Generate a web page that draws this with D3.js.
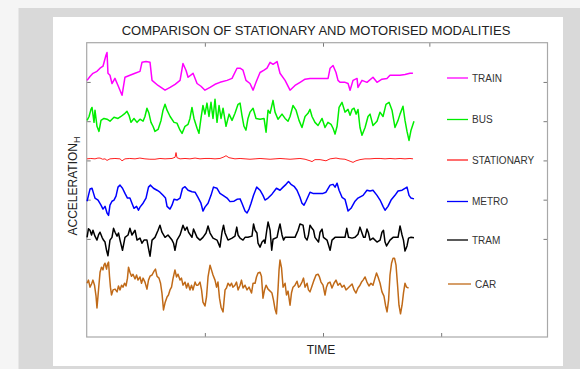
<!DOCTYPE html>
<html><head><meta charset="utf-8">
<script src="https://cdn.jsdelivr.net/npm/d3@7/dist/d3.min.js"></script>
<style>
html,body{margin:0;padding:0;background:#f5f5f5;}
svg{display:block;font-family:"Liberation Sans",Arial,Helvetica,sans-serif;}
</style>
</head><body><svg id="chart" width="580" height="369"></svg>
<script>
// ---------- DATA ----------
const seriesNames  = ["TRAIN", "BUS", "STATIONARY", "METRO", "TRAM", "CAR"];
const seriesColors = ["#ff00ff", "#00ee00", "#ff2020", "#0000ff", "#000000", "#c06a18"];
const xTickValues = [100, 200, 300];
const xTopTickValues = [100, 200, 290];
const yTickValues = [25, 35, 45, 55, 65];
const chartTitle = "COMPARISON OF STATIONARY AND MOTORISED MODALITIES";
const xLabel = "TIME";
const yLabel = "ACCELERATION";
const yLabelSub = "H";

// [time, offset acceleration]
const train = [[0.3,65.4],[2.8,66.4],[5.3,67.2],[8.7,67.7],[11.3,68.5],[13.8,69.0],[16.3,71.8],[17.2,72.5],[18.0,67.2],[19.7,66.7],[21.4,64.6],[23.9,65.9],[26.5,64.1],[29.9,61.6],[32.4,66.2],[36.6,66.7],[40.9,67.2],[45.1,67.7],[46.8,70.0],[50.2,70.2],[53.6,70.0],[55.3,65.4],[60.4,64.1],[66.3,62.9],[70.6,63.6],[74.8,64.4],[79.0,65.4],[81.5,69.7],[84.1,67.9],[85.8,66.2],[90.0,67.2],[93.4,64.6],[96.7,63.9],[100.1,62.9],[104.4,63.6],[108.6,64.4],[112.8,64.9],[118.8,65.4],[123.0,65.9],[127.2,68.5],[129.8,68.5],[132.3,68.0],[134.8,65.4],[138.2,64.6],[140.8,62.9],[143.3,64.9],[146.7,67.4],[150.1,68.0],[152.6,68.5],[155.2,70.0],[157.7,69.5],[161.1,70.2],[163.6,67.2],[167.9,65.4],[172.1,62.9],[176.3,64.1],[180.6,64.9],[184.8,65.7],[189.0,65.9],[197.5,65.9],[204.3,65.9],[206.0,68.5],[208.5,69.2],[211.0,67.4],[212.7,65.4],[214.4,64.9],[218.7,64.9],[221.2,64.6],[222.9,62.9],[225.4,65.4],[228.8,65.9],[229.6,63.6],[233.0,65.4],[237.2,64.9],[242.3,66.2],[245.7,64.9],[249.9,65.7],[254.1,65.9],[256.7,66.7],[260.9,66.7],[265.1,66.7],[269.4,66.9],[273.6,67.2],[276.1,67.2]];

const bus = [[0.3,55.2],[2.0,56.2],[3.6,58.0],[4.5,58.5],[6.2,54.7],[7.0,57.8],[8.7,53.7],[10.4,52.4],[12.1,55.2],[14.6,55.7],[17.2,55.5],[19.7,55.0],[23.1,56.0],[26.5,55.7],[29.0,56.2],[32.4,57.0],[34.1,57.5],[35.8,56.5],[37.5,54.7],[40.0,55.7],[42.6,54.7],[45.1,55.5],[47.7,55.0],[49.3,56.2],[51.0,58.3],[52.7,57.0],[54.4,54.7],[56.1,53.7],[57.8,52.4],[60.4,52.9],[62.9,55.2],[64.6,57.8],[66.3,59.3],[68.0,57.8],[70.6,56.2],[73.9,54.7],[76.4,54.5],[79.0,52.7],[80.7,51.9],[83.2,53.7],[85.8,54.2],[87.4,55.7],[89.1,58.5],[90.8,55.7],[93.4,53.2],[95.0,51.9],[96.7,55.7],[98.4,59.0],[100.1,56.8],[101.8,59.6],[103.5,56.2],[105.2,59.8],[106.9,55.7],[108.6,60.6],[110.3,54.7],[112.0,59.0],[113.7,55.7],[115.4,58.3],[117.9,53.7],[120.5,56.8],[123.0,55.2],[125.5,57.0],[128.1,59.3],[129.8,59.6],[131.4,56.5],[133.1,53.7],[134.8,52.7],[136.5,55.7],[138.2,57.3],[140.8,58.3],[143.3,55.7],[146.7,55.5],[150.1,55.7],[151.8,52.2],[153.5,57.8],[155.2,57.0],[157.7,60.3],[159.4,57.3],[161.9,55.5],[165.3,56.8],[167.9,55.7],[170.4,55.0],[172.1,56.2],[174.6,59.0],[177.2,57.8],[179.7,55.2],[182.2,53.4],[184.8,56.2],[187.3,57.0],[189.0,58.0],[190.7,56.2],[193.2,54.7],[195.8,53.9],[199.2,55.7],[201.7,53.4],[204.2,54.7],[206.8,54.2],[208.5,53.2],[210.2,51.7],[211.9,53.7],[213.6,58.5],[216.1,59.8],[218.6,57.3],[221.2,58.0],[222.9,56.5],[224.6,58.0],[226.3,58.3],[228.0,56.8],[229.6,58.0],[231.3,53.4],[233.0,51.4],[235.6,53.4],[238.1,56.2],[239.8,56.8],[242.3,53.9],[245.7,55.0],[248.2,57.3],[250.8,56.2],[253.3,59.3],[255.9,59.8],[258.4,57.8],[260.9,53.4],[263.5,55.2],[265.2,56.8],[267.7,58.8],[269.4,55.2],[271.1,52.4],[272.8,50.1],[274.5,52.7],[277.0,55.0]];

const stationary = [[0.3,45.4],[3.5,45.5],[7.0,45.4],[9.5,45.6],[11.3,45.6],[13.5,45.3],[15.5,45.4],[17.2,45.0],[19.7,45.4],[23.9,45.5],[28.2,45.4],[29.9,44.9],[32.4,45.4],[36.5,45.5],[40.9,45.4],[45.0,45.6],[49.3,45.4],[53.5,45.3],[57.8,45.3],[62.0,45.5],[66.3,45.4],[72.2,45.5],[74.8,45.8],[75.6,47.0],[76.4,45.7],[79.0,45.4],[83.2,45.5],[87.4,45.4],[91.7,45.6],[95.9,45.4],[100.1,45.5],[104.4,45.5],[108.6,45.4],[112.8,45.5],[116.2,45.9],[117.9,46.2],[120.4,45.7],[125.5,45.4],[129.8,45.5],[134.0,45.4],[138.2,45.3],[142.5,45.4],[146.7,45.5],[150.9,45.4],[155.2,45.3],[159.4,45.4],[163.6,45.5],[167.9,45.4],[172.1,45.3],[176.3,45.4],[180.5,45.5],[184.8,45.3],[189.0,44.9],[190.7,44.7],[193.2,45.2],[197.5,45.2],[202.5,44.9],[206.0,45.4],[211.0,45.6],[214.4,45.4],[218.6,45.3],[222.9,44.8],[225.4,44.5],[227.9,44.9],[231.3,45.2],[235.5,45.4],[239.8,45.4],[244.0,45.5],[248.3,45.5],[252.5,45.4],[256.7,45.5],[261.0,45.4],[265.2,45.5],[269.4,45.4],[273.6,45.5],[276.2,45.4]];

const metro = [[0.3,34.6],[1.5,36.1],[2.8,37.7],[4.5,37.9],[5.8,36.6],[7.0,35.4],[9.6,34.9],[12.1,33.6],[13.8,32.6],[15.5,33.3],[17.2,31.6],[18.5,31.0],[19.7,33.6],[21.4,34.6],[23.1,34.9],[24.8,35.9],[26.5,38.2],[28.2,38.7],[30.3,37.9],[32.4,36.6],[34.5,35.4],[36.6,35.4],[38.3,34.1],[40.0,32.8],[42.2,33.3],[43.8,32.3],[45.1,33.1],[47.7,34.1],[50.2,35.4],[52.3,38.2],[54.0,38.7],[56.5,37.9],[59.5,37.4],[62.0,36.9],[64.6,36.1],[66.7,35.4],[68.0,33.3],[70.5,32.6],[72.2,33.6],[73.9,35.1],[76.4,34.9],[79.0,35.4],[81.1,37.9],[83.2,38.3],[85.8,37.4],[89.1,37.0],[91.7,36.9],[94.2,35.6],[96.7,34.1],[98.4,32.1],[100.1,33.1],[102.7,34.1],[105.2,36.1],[107.3,38.2],[110.3,37.9],[112.8,36.6],[115.4,36.1],[118.8,35.4],[121.3,34.5],[124.7,34.6],[127.2,35.1],[129.8,35.2],[131.4,34.1],[134.0,32.1],[135.7,31.6],[137.4,32.6],[139.1,34.1],[141.2,36.1],[143.9,38.2],[146.7,37.4],[149.2,36.1],[150.9,34.9],[153.5,35.4],[156.8,36.4],[160.6,37.9],[163.6,37.4],[166.2,38.2],[168.7,38.9],[170.8,39.6],[172.9,38.9],[175.5,38.4],[178.0,37.4],[180.5,35.6],[182.2,34.1],[183.9,33.6],[185.6,34.6],[189.0,36.9],[191.5,36.6],[195.8,36.6],[200.0,36.6],[202.5,36.9],[206.0,38.7],[208.5,38.9],[210.2,38.2],[211.9,39.2],[213.6,37.4],[216.1,35.6],[218.6,35.1],[221.2,32.1],[223.7,32.8],[227.1,34.6],[229.6,35.4],[233.9,36.1],[237.2,37.4],[239.8,37.2],[242.3,37.4],[245.7,36.1],[248.3,34.9],[250.8,33.3],[252.5,32.3],[255.0,33.3],[257.6,34.9],[260.9,36.1],[263.5,37.2],[266.9,37.4],[269.4,37.9],[271.1,38.2],[272.8,36.1],[274.5,35.4],[277.0,35.2]];

const tram = [[0.3,25.4],[1.5,27.6],[2.8,27.2],[4.1,26.0],[5.3,27.2],[7.0,25.7],[8.7,24.7],[10.0,26.0],[11.3,26.7],[13.0,25.4],[14.2,24.7],[15.5,24.2],[16.8,22.1],[18.0,20.7],[19.7,24.7],[21.4,25.4],[22.7,27.7],[24.0,26.7],[25.7,25.7],[26.9,26.5],[28.2,24.7],[30.3,22.1],[32.4,25.4],[35.0,26.0],[36.6,27.7],[38.3,26.0],[40.9,27.2],[42.6,24.7],[45.1,25.2],[46.8,23.9],[48.5,24.7],[51.0,24.7],[52.3,22.6],[53.6,20.6],[55.3,24.7],[57.8,25.4],[60.4,27.2],[62.0,28.5],[63.7,26.7],[66.3,25.4],[68.8,26.0],[72.2,24.7],[73.5,23.9],[74.7,22.1],[76.4,24.7],[79.0,26.0],[81.5,28.5],[83.2,27.2],[84.9,28.0],[86.2,26.7],[89.1,25.4],[90.4,27.5],[93.4,25.4],[95.9,24.7],[98.4,25.4],[101.0,26.5],[102.7,28.3],[104.4,26.5],[106.9,25.2],[110.3,24.7],[112.8,22.9],[114.5,26.7],[115.8,28.5],[117.1,26.5],[119.6,24.7],[123.0,25.2],[125.5,25.7],[127.0,28.0],[128.1,26.0],[129.8,25.2],[132.3,24.7],[134.0,25.4],[136.5,25.4],[139.9,25.7],[141.2,28.8],[142.5,27.2],[144.1,26.5],[145.0,23.9],[146.7,22.9],[148.4,24.2],[150.1,24.7],[150.9,23.9],[152.4,27.2],[153.5,29.3],[155.2,27.2],[156.6,22.1],[157.7,24.9],[161.1,25.4],[162.3,27.2],[163.6,28.8],[165.3,26.0],[166.6,24.7],[167.9,25.4],[172.1,25.4],[176.3,25.4],[178.9,27.2],[180.5,28.8],[183.1,28.5],[184.8,25.4],[186.5,24.7],[187.7,26.0],[189.0,28.5],[190.7,27.7],[192.0,27.2],[193.2,25.4],[194.9,24.7],[196.2,24.2],[197.5,26.7],[199.2,27.5],[200.4,25.4],[203.4,24.7],[206.0,22.1],[207.6,24.7],[210.2,25.4],[214.4,25.4],[218.6,25.4],[220.1,27.7],[221.6,25.4],[224.6,25.2],[227.1,25.4],[229.6,26.2],[231.3,28.0],[233.0,26.5],[234.3,25.4],[235.6,25.4],[237.2,27.5],[238.5,26.5],[239.8,24.7],[242.3,25.2],[245.7,24.2],[248.3,24.7],[249.9,26.7],[251.2,27.2],[252.5,24.2],[253.8,23.2],[256.7,24.7],[259.3,25.4],[263.5,25.4],[265.2,28.3],[266.9,26.0],[268.1,24.7],[269.4,21.9],[271.1,23.2],[272.4,25.2],[274.5,25.4],[277.0,25.3]];

const car = [[0.3,13.7],[1.5,14.5],[2.8,12.7],[4.1,13.5],[5.3,14.5],[6.6,13.2],[7.9,10.4],[8.7,7.4],[10.0,12.0],[11.3,16.5],[12.5,17.8],[13.8,17.1],[14.6,18.3],[15.5,18.8],[16.8,17.3],[17.6,18.6],[18.5,19.1],[19.3,15.5],[20.1,12.7],[21.0,10.7],[22.3,12.0],[24.0,12.2],[25.7,11.5],[26.9,13.0],[28.2,12.0],[29.5,13.2],[30.7,12.7],[32.0,13.7],[33.3,13.0],[34.5,15.0],[35.4,17.8],[36.6,16.5],[37.9,15.5],[39.2,16.0],[40.9,14.8],[42.2,15.8],[43.4,14.5],[45.1,15.3],[46.4,13.7],[47.7,15.0],[49.3,14.0],[51.0,12.2],[52.3,14.5],[53.6,15.5],[55.3,15.8],[57.0,16.8],[58.2,17.3],[59.5,15.5],[61.2,15.0],[62.5,13.7],[63.7,11.2],[65.0,6.9],[66.3,8.7],[68.0,10.2],[69.2,10.7],[70.5,12.0],[71.8,12.7],[73.0,14.8],[74.7,17.1],[76.0,15.3],[77.3,16.0],[79.0,14.5],[80.2,15.0],[81.5,13.2],[83.2,14.0],[84.5,12.5],[85.8,13.7],[87.4,12.0],[88.7,13.2],[90.0,12.0],[91.7,14.0],[92.9,13.2],[94.2,13.2],[95.9,14.0],[97.2,12.0],[98.4,8.9],[100.1,7.9],[101.4,10.2],[102.7,15.3],[104.4,18.3],[105.6,17.1],[106.9,15.8],[108.6,14.5],[109.9,12.7],[111.1,14.0],[112.4,9.9],[113.7,7.6],[115.4,6.4],[117.1,12.0],[118.3,12.5],[119.6,13.7],[121.3,13.0],[122.6,13.7],[123.8,12.7],[125.5,13.2],[126.8,14.0],[128.1,12.0],[129.8,13.2],[131.0,14.5],[132.3,12.5],[134.0,13.2],[135.7,12.0],[137.4,12.7],[139.5,11.2],[140.8,13.7],[142.5,13.7],[143.7,15.3],[145.0,16.3],[146.7,16.5],[147.9,15.5],[149.2,9.9],[150.5,12.0],[151.8,13.2],[153.5,12.2],[155.2,11.7],[156.8,11.2],[158.1,9.4],[159.4,7.1],[160.6,5.9],[161.9,12.0],[162.8,17.1],[163.6,19.6],[164.9,17.6],[166.2,12.7],[167.9,13.7],[169.1,10.7],[170.4,11.7],[172.1,8.1],[173.3,11.2],[174.6,12.7],[176.3,13.2],[178.0,14.2],[179.3,12.7],[180.5,13.0],[182.2,14.0],[183.5,15.0],[184.8,12.7],[186.5,13.7],[187.7,12.0],[189.0,11.5],[190.7,13.0],[192.4,14.5],[194.1,15.8],[195.8,16.0],[197.0,15.3],[198.3,14.0],[200.0,13.2],[201.7,10.7],[202.9,12.7],[204.2,13.7],[205.9,14.0],[207.6,12.5],[209.3,13.7],[211.0,14.5],[212.7,13.2],[214.4,13.7],[216.1,12.7],[217.8,13.2],[219.5,12.0],[221.2,12.5],[222.9,13.0],[224.6,13.5],[226.3,12.0],[227.9,11.2],[229.6,12.5],[231.3,13.2],[232.6,14.0],[233.9,14.5],[235.6,15.3],[237.2,14.0],[238.9,13.0],[240.6,13.7],[242.3,13.2],[244.0,15.0],[245.3,16.3],[246.6,15.3],[248.3,13.7],[249.9,11.5],[251.6,10.4],[252.9,8.1],[254.2,6.4],[255.5,9.4],[256.7,15.8],[258.0,18.8],[259.3,20.1],[260.5,20.1],[261.8,18.3],[263.1,13.2],[264.3,8.1],[265.6,5.9],[266.9,8.1],[268.1,11.2],[269.4,13.7],[270.7,12.7],[272.4,12.5]];

const seriesData = [train, bus, stationary, metro, tram, car];

// ---------- LAYOUT ----------
const W = 580, H = 369;
const plot = {left: 86.7, right: 547.5, top: 42.7, bottom: 337};
const svg = d3.select("#chart");

// backgrounds
svg.append("rect").attr("x", 0).attr("y", 0).attr("width", W).attr("height", H).attr("fill", "#f5f5f5");
svg.append("rect").attr("x", 18.5).attr("y", 8).attr("width", W - 18.5).attr("height", H - 8).attr("fill", "#d9d9d9");
svg.append("rect").attr("x", 53).attr("y", 17).attr("width", 510).attr("height", 349).attr("fill", "#ffffff");

const x = d3.scaleLinear().domain([0, 390]).range([plot.left, plot.right]);
const y = d3.scaleLinear().domain([0, 75]).range([plot.bottom, plot.top]);

const axisColor = "#a8a8a8";
const tickLen = 4;

// axes via d3 (ticks inward, no labels)
const gx = svg.append("g").attr("transform", `translate(0,${plot.bottom})`)
  .call(d3.axisTop(x).tickValues(xTickValues).tickSize(tickLen).tickFormat(""));
const gxTop = svg.append("g").attr("transform", `translate(0,${plot.top})`)
  .call(d3.axisBottom(x).tickValues(xTopTickValues).tickSize(tickLen).tickFormat(""));
const gy = svg.append("g").attr("transform", `translate(${plot.left},0)`)
  .call(d3.axisRight(y).tickValues(yTickValues).tickSize(tickLen).tickFormat(""));
const gyR = svg.append("g").attr("transform", `translate(${plot.right},0)`)
  .call(d3.axisLeft(y).tickValues(yTickValues).tickSize(tickLen).tickFormat(""));
[gx, gxTop, gy, gyR].forEach(g => {
  g.selectAll(".domain").remove();
  g.selectAll(".tick line").attr("stroke", "#7a7a7a").attr("stroke-width", 1);
});

// frame
svg.append("rect")
  .attr("x", plot.left).attr("y", plot.top)
  .attr("width", plot.right - plot.left).attr("height", plot.bottom - plot.top)
  .attr("fill", "none").attr("stroke", axisColor).attr("stroke-width", 1.2);

// series
const line = d3.line().x(d => x(d[0])).y(d => y(d[1]));
seriesData.forEach((s, i) => {
  svg.append("path").datum(s)
    .attr("d", line)
    .attr("fill", "none")
    .attr("stroke", seriesColors[i])
    .attr("stroke-width", i === 2 ? 1 : 1.5)
    .attr("stroke-linejoin", "round");
});

// legend
const legendY = [78, 119.5, 160, 201.5, 240, 284];
const legendX0 = [447, 447, 447, 447, 447, 448];
const legendX1 = [468, 468, 468, 468, 468, 471];
const legendTx = [472, 472, 472, 472, 472, 475];
seriesNames.forEach((n, i) => {
  svg.append("line")
    .attr("x1", legendX0[i]).attr("x2", legendX1[i])
    .attr("y1", legendY[i]).attr("y2", legendY[i])
    .attr("stroke", seriesColors[i]).attr("stroke-width", 1.3);
  svg.append("text")
    .attr("x", legendTx[i]).attr("y", legendY[i] + 3.6)
    .attr("font-size", 10).attr("fill", "#333")
    .text(n);
});

// title
svg.append("text")
  .attr("x", 316).attr("y", 35)
  .attr("text-anchor", "middle")
  .attr("font-size", 13).attr("fill", "#222")
  .text(chartTitle);

// x label
svg.append("text")
  .attr("x", 321).attr("y", 354)
  .attr("text-anchor", "middle")
  .attr("font-size", 12).attr("fill", "#222")
  .text(xLabel);

// y label with subscript
const yl = svg.append("text")
  .attr("transform", "translate(77,186) rotate(-90)")
  .attr("text-anchor", "middle")
  .attr("font-size", 12).attr("fill", "#222");
yl.append("tspan").text(yLabel);
yl.append("tspan").attr("font-size", 9).attr("dy", 3).text(yLabelSub);
</script>
</body></html>
